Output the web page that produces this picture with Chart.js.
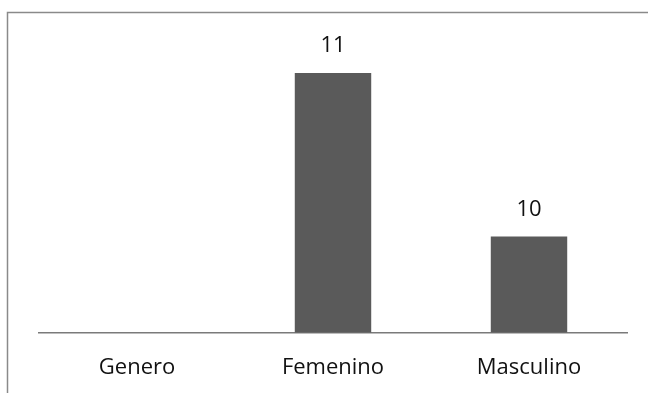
<!DOCTYPE html>
<html>
<head>
<meta charset="utf-8">
<script src="https://cdn.jsdelivr.net/npm/chart.js@4"></script>
<style>
html,body{margin:0;padding:0;background:#fff;}
#wrap{width:648px;height:393px;position:relative;}
</style>
</head>
<body>
<div id="wrap"><canvas id="c" width="648" height="393"></canvas></div>
<script>
const categories = ["Genero", "Femenino", "Masculino"];
const values = [null, 11, 10];
const valueLabels = ["", "11", "10"];
const yMin = 9.411;
const yMax = 11.2025;

const framePlugin = {
  id: 'frame',
  beforeDraw(chart) {
    const ctx = chart.ctx;
    ctx.save();
    ctx.fillStyle = '#fff';
    ctx.fillRect(0, 0, chart.width, chart.height);
    ctx.strokeStyle = '#8a8a8a';
    ctx.lineWidth = 1.5;
    ctx.beginPath();
    ctx.moveTo(7.5, chart.height);
    ctx.lineTo(7.5, 12.5);
    ctx.lineTo(chart.width, 12.5);
    ctx.stroke();
    ctx.restore();
  }
};

const labelPlugin = {
  id: 'valLabels',
  afterDatasetsDraw(chart) {
    const ctx = chart.ctx;
    const meta = chart.getDatasetMeta(0);
    ctx.save();
    ctx.fillStyle = '#111';
    ctx.font = '22px "Open Sans", Lato, sans-serif';
    ctx.textAlign = 'center';
    ctx.textBaseline = 'middle';
    meta.data.forEach((bar, i) => {
      if (values[i] == null) return;
      ctx.fillText(valueLabels[i], bar.x, bar.y - 27);
    });
    ctx.restore();
  }
};

new Chart(document.getElementById('c'), {
  type: 'bar',
  data: {
    labels: categories,
    datasets: [{
      data: values,
      backgroundColor: '#5a5a5a',
      borderWidth: 0,
      barPercentage: 0.39,
      categoryPercentage: 1.0
    }]
  },
  options: {
    responsive: false,
    animation: false,
    devicePixelRatio: 1,
    layout: { padding: { left: 39, right: 21, top: 40, bottom: -10 } },
    plugins: { legend: { display: false }, tooltip: { enabled: false } },
    scales: {
      x: {
        grid: { display: false, drawTicks: false },
        border: { display: true, color: '#7a7a7a', width: 1.5 },
        ticks: {
          color: '#111',
          padding: 22,
          font: { family: '"Open Sans", Lato, sans-serif', size: 22 }
        }
      },
      y: {
        display: false,
        min: yMin,
        max: yMax
      }
    }
  },
  plugins: [framePlugin, labelPlugin]
});
</script>
</body>
</html>
